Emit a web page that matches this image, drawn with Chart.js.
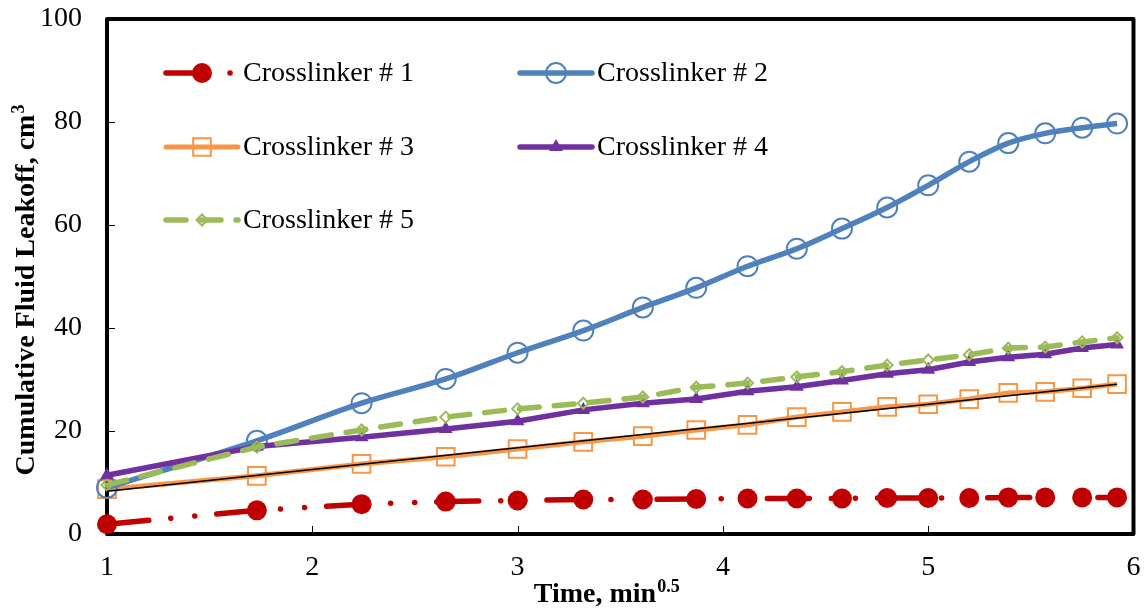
<!DOCTYPE html>
<html>
<head>
<meta charset="utf-8">
<script src="https://cdn.jsdelivr.net/npm/chart.js@4"></script>
<style>
  body { margin: 0; background: #fff; }
  canvas { display: block; }
</style>
</head>
<body>
<canvas id="chart" width="1148" height="609"></canvas>
<script>
// time values (sqrt of minutes)
const times = [1, 1.73, 2.24, 2.65, 3, 3.32, 3.61, 3.87, 4.12, 4.36, 4.58, 4.8, 5, 5.2, 5.39, 5.57, 5.75, 5.92]
const cl1 = [1.9, 4.6, 5.8, 6.3, 6.5, 6.7, 6.7, 6.8, 6.9, 6.9, 6.9, 7.0, 7.0, 7.0, 7.1, 7.1, 7.1, 7.1]
const cl2 = [9.0, 18.1, 25.4, 30.1, 35.2, 39.5, 44.0, 47.8, 52.0, 55.4, 59.3, 63.4, 67.7, 72.3, 75.9, 77.8, 78.9, 79.7]
const cl3 = [8.7, 11.3, 13.6, 15.0, 16.5, 17.9, 19.0, 20.2, 21.2, 22.7, 23.7, 24.7, 25.2, 26.2, 27.4, 27.6, 28.3, 29.1]
const cl4 = [11.4, 17.0, 18.8, 20.4, 21.9, 24.1, 25.4, 26.2, 27.7, 28.6, 29.8, 31.1, 31.9, 33.4, 34.3, 34.9, 36.1, 36.8]
const cl5 = [9.5, 16.9, 20.2, 22.7, 24.3, 25.4, 26.6, 28.5, 29.3, 30.5, 31.5, 32.8, 33.8, 34.8, 36.1, 36.3, 37.3, 38.1]
// linear trend on crosslinker 3
const trendX = [1, 5.92]
const trendY = [8.3, 29.1]

const xTicks = [1, 2, 3, 4, 5, 6]
const yTicks = [0, 20, 40, 60, 80, 100]

const FONT = 'Liberation Serif'

function pts(xs, ys) {
  return xs.map((x, i) => ({ x: x, y: ys[i] }))
}

const datasets = [
  { label: 'trend', data: pts(trendX, trendY), borderColor: '#000', borderWidth: 1.5, pointRadius: 0 },
  { label: 'Crosslinker # 1', data: pts(times, cl1), borderColor: '#C00000', borderWidth: 5.5,
    borderDash: [42, 22, 0.1, 24, 0.1, 22], borderCapStyle: 'round',
    pointStyle: 'circle', pointRadius: 10, pointBackgroundColor: '#C00000', pointBorderColor: '#C00000', pointBorderWidth: 0 },
  { label: 'Crosslinker # 5', data: pts(times, cl5), borderColor: '#9BBB59', borderWidth: 5.5,
    borderDash: [20, 15], borderCapStyle: 'round',
    pointStyle: 'rectRot', pointRadius: 5.5, pointBackgroundColor: 'rgba(0,0,0,0)', pointBorderColor: '#9BBB59', pointBorderWidth: 2 },
  { label: 'Crosslinker # 4', data: pts(times, cl4), borderColor: '#7030A0', borderWidth: 5.5,
    pointStyle: 'triangle', pointRadius: 8, pointBackgroundColor: '#7030A0', pointBorderColor: '#7030A0', pointBorderWidth: 0 },
  { label: 'Crosslinker # 2', data: pts(times, cl2), borderColor: '#4F81BD', borderWidth: 5.5, tension: 0.35,
    pointStyle: 'circle', pointRadius: 10, pointBackgroundColor: 'rgba(0,0,0,0)', pointBorderColor: '#4F81BD', pointBorderWidth: 2 },
  { label: 'Crosslinker # 3', data: pts(times, cl3), borderColor: '#F79646', borderWidth: 5,
    pointStyle: 'rect', pointRadius: 12.5, pointBackgroundColor: 'rgba(0,0,0,0)', pointBorderColor: '#F79646', pointBorderWidth: 2 }
]
datasets.forEach(d => { d.showLine = true; d.clip = false; d.fill = false })

/* frame + inward ticks */
const framePlugin = {
  id: 'frame',
  beforeDatasetsDraw(chart) {
    const { ctx, chartArea: a, scales } = chart
    ctx.save()
    ctx.strokeStyle = '#000'
    ctx.lineWidth = 1
    ctx.beginPath()
    yTicks.forEach(v => {
      const py = Math.round(scales.y.getPixelForValue(v)) + 0.5
      ctx.moveTo(a.left, py); ctx.lineTo(a.left + 8, py)
    })
    xTicks.forEach(v => {
      const px = Math.round(scales.x.getPixelForValue(v)) + 0.5
      ctx.moveTo(px, a.bottom); ctx.lineTo(px, a.bottom - 8)
    })
    ctx.stroke()
    ctx.lineWidth = 4
    ctx.lineJoin = 'round'
    ctx.strokeRect(a.left, a.top, a.right - a.left, a.bottom - a.top)
    ctx.restore()
  }
}

/* axis titles with superscripts */
const titlePlugin = {
  id: 'titles',
  afterDraw(chart) {
    const { ctx, chartArea: a } = chart
    ctx.save()
    ctx.fillStyle = '#000'
    ctx.textBaseline = 'alphabetic'
    // x title
    ctx.font = 'bold 28px "' + FONT + '"'
    const xm = 'Time, min'
    const w1 = ctx.measureText(xm).width
    ctx.font = 'bold 18px "' + FONT + '"'
    const w2 = ctx.measureText('0.5').width
    let sx = (a.left + a.right) / 2 - 14 - (w1 + w2) / 2
    ctx.font = 'bold 28px "' + FONT + '"'
    ctx.fillText(xm, sx, 602)
    ctx.font = 'bold 18px "' + FONT + '"'
    ctx.fillText('0.5', sx + w1 + 1, 592)
    // y title
    ctx.translate(34, (a.top + a.bottom) / 2 + 14)
    ctx.rotate(-Math.PI / 2)
    ctx.font = 'bold 28px "' + FONT + '"'
    const ym = 'Cumulative Fluid Leakoff, cm'
    const h1 = ctx.measureText(ym).width
    ctx.font = 'bold 18px "' + FONT + '"'
    const h2 = ctx.measureText('3').width
    const sy = -(h1 + h2) / 2
    ctx.font = 'bold 28px "' + FONT + '"'
    ctx.fillText(ym, sy, 0)
    ctx.font = 'bold 18px "' + FONT + '"'
    ctx.fillText('3', sy + h1 + 1, -10)
    ctx.restore()
  }
}

/* legend inside the plot, two columns */
const legendPos = [
  { label: 'Crosslinker # 1', x: 166, y: 73 },
  { label: 'Crosslinker # 2', x: 520, y: 73 },
  { label: 'Crosslinker # 3', x: 166, y: 147 },
  { label: 'Crosslinker # 4', x: 520, y: 147 },
  { label: 'Crosslinker # 5', x: 166, y: 220 }
]
const legendPlugin = {
  id: 'insideLegend',
  afterDraw(chart) {
    const ctx = chart.ctx
    legendPos.forEach(p => {
      const d = chart.data.datasets.find(ds => ds.label === p.label)
      ctx.save()
      ctx.strokeStyle = d.borderColor
      ctx.lineWidth = d.borderWidth
      ctx.lineCap = 'round'
      ctx.setLineDash(d.borderDash || [])
      ctx.beginPath()
      ctx.moveTo(p.x, p.y); ctx.lineTo(p.x + 72, p.y)
      ctx.stroke()
      ctx.setLineDash([])
      ctx.fillStyle = d.pointBackgroundColor
      ctx.strokeStyle = d.pointBorderColor
      ctx.lineWidth = d.pointBorderWidth
      Chart.helpers.drawPoint(ctx, { pointStyle: d.pointStyle, radius: d.pointRadius, rotation: 0, borderWidth: d.pointBorderWidth }, p.x + 36, p.y)
      ctx.fillStyle = '#000'
      ctx.font = '28px "' + FONT + '"'
      ctx.textBaseline = 'middle'
      ctx.fillText(p.label, p.x + 77, p.y + 1)
      ctx.restore()
    })
  }
}

new Chart('chart', {
  type: 'scatter',
  data: { datasets: datasets },
  options: {
    responsive: false,
    animation: false,
    layout: { padding: { top: 19, right: 13, left: 0, bottom: 0 } },
    plugins: { legend: { display: false }, tooltip: { enabled: false } },
    scales: {
      x: {
        type: 'linear', min: 1, max: 6,
        afterBuildTicks: s => { s.ticks = xTicks.map(v => ({ value: v })) },
        afterFit: s => { s.height = 75; s.paddingLeft = 0; s.paddingRight = 0 },
        grid: { display: false, drawTicks: false },
        border: { display: false },
        ticks: { font: { family: FONT, size: 28 }, color: '#000', padding: 17 }
      },
      y: {
        min: 0, max: 100,
        afterBuildTicks: s => { s.ticks = yTicks.map(v => ({ value: v })) },
        afterFit: s => { s.width = 107; s.paddingTop = 0; s.paddingBottom = 0 },
        grid: { display: false, drawTicks: false },
        border: { display: false },
        ticks: { font: { family: FONT, size: 28 }, color: '#000', padding: 25 }
      }
    }
  },
  plugins: [framePlugin, titlePlugin, legendPlugin]
})
</script>
</body>
</html>
